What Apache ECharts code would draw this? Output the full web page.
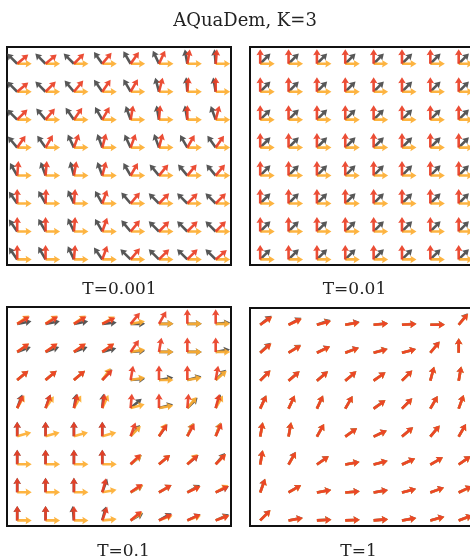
<!DOCTYPE html>
<html><head><meta charset="utf-8">
<script src="https://cdn.jsdelivr.net/npm/echarts@6/dist/echarts.min.js"></script>
<style>html,body{margin:0;padding:0;background:#fff}#c{width:470px;height:557px}</style>
</head><body><div id="c"></div><script>
// Grid of arrow tails: 8 columns x 8 rows (row 0 = top)
const colIdx = [0,1,2,3,4,5,6,7];
const rowIdx = [0,1,2,3,4,5,6,7];
const mainTitle = "AQuaDem, K=3";
const panelTitles = ["T=0.001", "T=0.01", "T=0.1", "T=1"];
// Arrow directions in degrees (0 = right, 90 = up), one 8x8 block per panel & component
const grayT0001 = [
 [135,135,135,125,120,115,100,95],
 [135,135,130,125,120,105,95,100],
 [135,130,125,120,110,100,100,110],
 [130,125,115,110,115,110,120,125],
 [120,110,105,110,120,130,130,130],
 [125,120,115,120,130,135,135,135],
 [125,120,115,120,130,135,135,135],
 [125,120,115,125,135,135,135,135]];
const redT0001 = [
 [40,40,45,50,55,65,80,85],
 [40,45,50,55,60,75,85,90],
 [45,50,55,60,80,85,90,75],
 [55,60,70,75,70,75,60,55],
 [85,85,80,75,60,50,50,50],
 [90,88,85,70,50,45,45,45],
 [90,90,85,70,50,45,45,45],
 [90,90,85,70,50,45,45,40]];
const orangeT0001 = [
 [0,0,0,0,0,0,0,0],[0,0,0,0,0,0,0,0],[0,0,0,0,0,0,0,0],[0,0,0,0,0,0,0,0],
 [0,0,0,0,0,0,0,0],[0,0,0,0,0,0,0,0],[0,0,0,0,0,0,0,0],[0,0,0,0,0,0,0,0]];
const grayT001 = [
 [45,45,45,45,45,45,45,45],[45,45,45,45,45,45,45,45],[45,45,45,45,45,45,45,45],[45,45,45,45,45,45,45,45],
 [45,45,45,45,45,45,45,45],[45,45,45,45,45,45,45,45],[45,45,45,45,45,45,45,45],[45,45,45,45,45,45,45,45]];
const redT001 = [
 [90,90,90,90,90,90,90,90],[90,90,90,90,90,90,90,90],[90,90,90,90,90,90,90,90],[90,90,90,90,90,90,90,90],
 [90,90,90,90,90,90,90,90],[90,90,90,90,90,90,90,90],[90,90,90,90,90,90,90,90],[90,90,90,90,90,90,90,90]];
const orangeT001 = [
 [0,0,0,0,0,0,0,0],[0,0,0,0,0,0,0,0],[0,0,0,0,0,0,0,0],[0,0,0,0,0,0,0,0],
 [0,0,0,0,0,0,0,0],[0,0,0,0,0,0,0,0],[0,0,0,0,0,0,0,0],[0,0,0,0,0,0,0,0]];
const grayT01 = [
 [10,10,10,5,0,0,0,5],
 [20,20,20,15,5,0,0,10],
 [40,40,40,50,5,10,15,45],
 [70,70,80,85,40,15,45,70],
 [90,90,90,90,50,55,65,70],
 [90,90,90,90,40,40,40,50],
 [90,90,90,70,30,30,30,25],
 [90,90,95,75,30,30,25,25]];
const redT01 = [
 [30,30,30,25,50,60,90,90],
 [35,35,35,35,55,80,90,90],
 [40,40,40,45,80,90,90,80],
 [65,70,75,80,85,90,85,75],
 [90,90,90,90,70,55,60,65],
 [90,90,90,90,45,40,40,45],
 [90,90,90,75,35,30,25,25],
 [90,90,90,70,40,25,25,20]];
const orangeT01 = [
 [35,35,35,30,10,0,0,0],
 [35,35,35,35,10,0,0,0],
 [40,40,40,55,10,0,10,40],
 [60,55,60,65,15,10,50,60],
 [15,15,15,15,45,60,65,70],
 [0,0,0,0,40,40,45,45],
 [0,0,0,10,30,30,25,30],
 [0,0,0,5,35,20,20,20]];
const grayT1 = [
 [39,29,19,12,6,4,1,52],
 [44,33,27,21,16,15,51,90],
 [46,41,41,40,35,45,75,80],
 [66,65,65,60,36,45,60,70],
 [80,80,61,36,25,40,50,60],
 [81,61,36,11,15,25,30,35],
 [71,31,11,5,10,15,20,25],
 [46,11,4,3,5,10,15,20]];
const redT1 = [
 [35,25,15,10,5,3,0,50],
 [40,30,25,20,15,15,50,90],
 [45,40,40,40,35,45,75,80],
 [65,65,65,60,35,45,60,70],
 [80,80,60,35,25,40,50,60],
 [80,60,35,10,15,25,30,35],
 [70,30,10,5,10,15,20,25],
 [45,10,3,3,5,10,15,20]];
const orangeT1 = [
 [34,24,15,9,5,3,0,49],
 [39,30,24,19,15,14,49,89],
 [44,40,39,40,34,44,74,79],
 [64,64,65,59,35,44,59,69],
 [79,79,60,35,24,39,49,59],
 [79,59,34,10,14,24,29,34],
 [69,29,10,4,9,14,19,24],
 [44,9,3,2,4,9,14,19]];

const panels = [
  {name: panelTitles[0], gray: grayT0001, orange: orangeT0001, red: redT0001},
  {name: panelTitles[1], gray: grayT001, orange: orangeT001, red: redT001},
  {name: panelTitles[2], gray: grayT01, orange: orangeT01, red: redT01},
  {name: panelTitles[3], gray: grayT1, orange: orangeT1, red: redT1}
];
const gridPos = [
  {left: 7, top: 47, width: 224, height: 218},
  {left: 250, top: 47, width: 224, height: 218},
  {left: 7, top: 307, width: 224, height: 219},
  {left: 250, top: 308, width: 224, height: 218}
];
const colors = {gray: '#4a4a4a', orange: '#fdae33', red: '#ea3f26'};

function toData(block) {
  const out = [];
  rowIdx.forEach(i => colIdx.forEach(j => out.push([j, 7 - i, block[i][j]])));
  return out;
}
function arrowPts(p, deg, L, sw, hw, hl, hb) {
  const a = deg * Math.PI / 180, ux = Math.cos(a), uy = -Math.sin(a), nx = -uy, ny = ux;
  const tip = [p[0] + ux * L, p[1] + uy * L];
  const nk = [p[0] + ux * (L - hl), p[1] + uy * (L - hl)];
  const bk = [p[0] + ux * (L - hl - hb), p[1] + uy * (L - hl - hb)];
  return [
    [p[0] + nx * sw / 2, p[1] + ny * sw / 2],
    [nk[0] + nx * sw / 2, nk[1] + ny * sw / 2],
    [bk[0] + nx * hw / 2, bk[1] + ny * hw / 2],
    tip,
    [bk[0] - nx * hw / 2, bk[1] - ny * hw / 2],
    [nk[0] - nx * sw / 2, nk[1] - ny * sw / 2],
    [p[0] - nx * sw / 2, p[1] - ny * sw / 2]
  ];
}
function makeRender(color) {
  return function (params, api) {
    const p = api.coord([api.value(0), api.value(1)]);
    return {
      type: 'polygon',
      shape: {points: arrowPts(p, api.value(2), 14.5, 2.6, 7.5, 5.5, 0.6)},
      style: {fill: color, opacity: 0.93}
    };
  };
}

const grids = [], xAxes = [], yAxes = [], series = [];
panels.forEach((pn, k) => {
  grids.push(Object.assign({show: true, borderColor: '#111', borderWidth: 2, backgroundColor: '#fff', outerBoundsMode: 'none', containLabel: false}, gridPos[k]));
  xAxes.push({gridIndex: k, type: 'value', min: -0.36, max: 7.54, show: false});
  yAxes.push({gridIndex: k, type: 'value', min: -0.2, max: 7.6, show: false});
  ['gray', 'orange', 'red'].forEach(c => {
    series.push({
      type: 'custom', xAxisIndex: k, yAxisIndex: k, clip: false,
      renderItem: makeRender(colors[c]), data: toData(pn[c]), silent: true, animation: false
    });
  });
});

const labelPos = [[119.5, 290], [354.5, 290], [123.5, 552], [358.5, 552]];
const graphics = [{
  type: 'text', x: 245, y: 21,
  style: {text: mainTitle, fontFamily: 'DejaVu Serif', fontSize: 18, fill: '#222', align: 'center', verticalAlign: 'middle'}
}];
panels.forEach((pn, k) => graphics.push({
  type: 'text', x: labelPos[k][0], y: labelPos[k][1],
  style: {text: pn.name, fontFamily: 'DejaVu Serif', fontSize: 17, fill: '#222', align: 'center', verticalAlign: 'middle'}
}));

const chart = echarts.init(document.getElementById('c'), null, {renderer: 'canvas'});
chart.setOption({
  animation: false,
  grid: grids, xAxis: xAxes, yAxis: yAxes, series: series, graphic: graphics
});
</script></body></html>
